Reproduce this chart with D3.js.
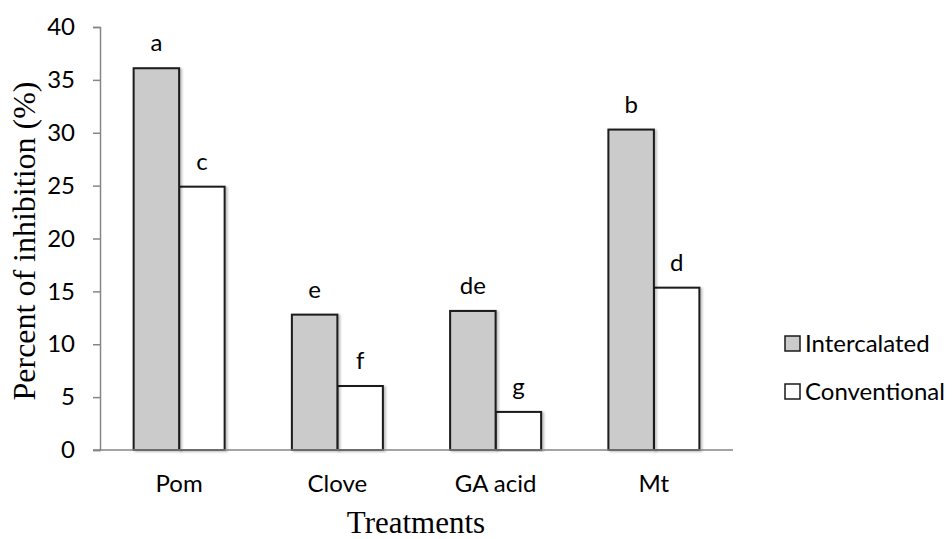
<!DOCTYPE html>
<html>
<head>
<meta charset="utf-8">
<script src="https://cdn.jsdelivr.net/npm/d3@7"></script>
<style>
  body { margin: 0; background: #fff; }
  svg { display: block; }
</style>
</head>
<body>
<script>
// data
var treatments = ["Pom", "Clove", "GA acid", "Mt"];
var intercalated = [36.1, 12.8, 13.15, 30.3];
var conventional = [24.9, 6.05, 3.6, 15.35];
var lettersInter = ["a", "e", "de", "b"];
var lettersConv = ["c", "f", "g", "d"];
var seriesNames = ["Intercalated", "Conventional"];
var yTicks = [0, 5, 10, 15, 20, 25, 30, 35, 40];

var width = 952, height = 539;
var sans = "Lato, 'Open Sans', sans-serif";
var serif = "'Liberation Serif', 'Times New Roman', serif";
var fills = ["#cbcbcb", "#ffffff"];
var fontSize = 24;

var svg = d3.select("body").append("svg")
    .attr("width", width)
    .attr("height", height);

var defs = svg.append("defs");
var shadow = defs.append("filter").attr("id", "shadow")
    .attr("x", "-20%").attr("y", "-5%").attr("width", "140%").attr("height", "110%");
shadow.append("feDropShadow")
    .attr("dx", 2).attr("dy", 1).attr("stdDeviation", 1.2)
    .attr("flood-color", "#000").attr("flood-opacity", 0.25);

var x = d3.scaleBand()
    .domain(treatments)
    .range([100, 733])
    .paddingInner(0.425)
    .paddingOuter(0.2125);

var xs = d3.scaleBand()
    .domain([0, 1])
    .range([0, x.bandwidth()]);

var y = d3.scaleLinear()
    .domain([0, 40])
    .range([450, 27]);

// y axis
var yAxis = svg.append("g")
    .attr("transform", "translate(100,0)")
    .call(d3.axisLeft(y).tickValues(yTicks).tickSize(7).tickPadding(18));
yAxis.select(".domain").attr("stroke", "#868686").attr("stroke-width", 1.5);
yAxis.selectAll(".tick line").attr("stroke", "#868686").attr("stroke-width", 1.5);
yAxis.selectAll(".tick text")
    .attr("font-family", sans).attr("font-size", fontSize).attr("fill", "#000");

// bars
var groups = svg.append("g").selectAll("g")
    .data(treatments)
    .enter().append("g")
    .attr("transform", function(d) { return "translate(" + x(d) + ",0)"; });

var series = [intercalated, conventional];
var letters = [lettersInter, lettersConv];

[1, 0].forEach(function(s) {
  groups.append("rect")
      .attr("x", xs(s))
      .attr("y", function(d, i) { return y(series[s][i]); })
      .attr("width", xs.bandwidth())
      .attr("height", function(d, i) { return y(0) - y(series[s][i]); })
      .attr("fill", fills[s])
      .attr("stroke", "#1a1a1a")
      .attr("stroke-width", 2)
      .attr("filter", "url(#shadow)");
});

[0, 1].forEach(function(s) {
  groups.append("text")
      .attr("x", xs(s) + xs.bandwidth() / 2)
      .attr("y", function(d, i) { return y(series[s][i]) - 17; })
      .attr("text-anchor", "middle")
      .attr("font-family", sans).attr("font-size", fontSize)
      .text(function(d, i) { return letters[s][i]; });
});

// x axis
var xAxis = svg.append("g")
    .attr("transform", "translate(0,450)")
    .call(d3.axisBottom(x).tickSize(0).tickPadding(25).tickSizeOuter(0));
xAxis.select(".domain").attr("stroke", "#868686").attr("stroke-width", 1.5)
    .attr("d", "M93,0H733");
xAxis.selectAll(".tick text")
    .attr("font-family", sans).attr("font-size", fontSize).attr("fill", "#000");

// axis titles
svg.append("text")
    .attr("transform", "translate(35,241) rotate(-90)")
    .attr("text-anchor", "middle")
    .attr("font-family", serif).attr("font-size", 32)
    .text("Percent of inhibition (%)");

svg.append("text")
    .attr("x", 416).attr("y", 533)
    .attr("text-anchor", "middle")
    .attr("font-family", serif).attr("font-size", 31)
    .text("Treatments");

// legend
var legend = svg.append("g").selectAll("g")
    .data(seriesNames)
    .enter().append("g")
    .attr("transform", function(d, i) { return "translate(785," + (336 + i * 48) + ")"; });
legend.append("rect")
    .attr("width", 15).attr("height", 15)
    .attr("fill", function(d, i) { return fills[i]; })
    .attr("stroke", "#1a1a1a").attr("stroke-width", 1.5);
legend.append("text")
    .attr("x", 20).attr("y", 16)
    .attr("font-family", sans).attr("font-size", fontSize)
    .text(function(d) { return d; });
</script>
</body>
</html>
